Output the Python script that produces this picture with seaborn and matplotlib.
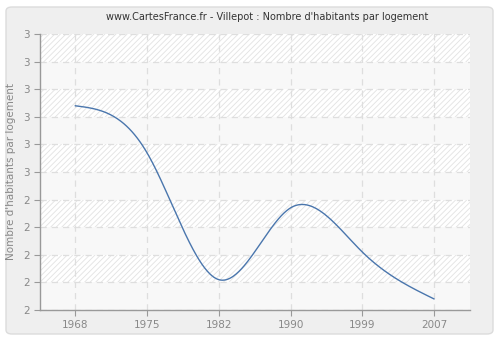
import numpy as np
import pandas as pd
import matplotlib
matplotlib.use("Agg")
import matplotlib.pyplot as plt
from matplotlib.patches import FancyBboxPatch
import seaborn as sns

years = ["1968", "1975", "1982", "1990", "1999", "2007"]
values = [2.74, 2.57, 2.11, 2.37, 2.21, 2.04]
y_ticks = [2.0, 2.1, 2.2, 2.3, 2.4, 2.5, 2.6, 2.7, 2.8, 2.9, 3.0]

title = "www.CartesFrance.fr - Villepot : Nombre d'habitants par logement"
ylabel = "Nombre d'habitants par logement"


def natural_spline(x, y, xs):
    x = np.asarray(x, float)
    y = np.asarray(y, float)
    n = len(x)
    h = np.diff(x)
    A = np.zeros((n - 2, n - 2))
    r = np.zeros(n - 2)
    for i in range(1, n - 1):
        k = i - 1
        A[k, k] = 2 * (h[i - 1] + h[i])
        if k > 0:
            A[k, k - 1] = h[i - 1]
        if k < n - 3:
            A[k, k + 1] = h[i]
        r[k] = 6 * ((y[i + 1] - y[i]) / h[i] - (y[i] - y[i - 1]) / h[i - 1])
    M = np.zeros(n)
    M[1:-1] = np.linalg.solve(A, r)
    out = np.empty_like(xs)
    for j, t in enumerate(xs):
        i = min(max(np.searchsorted(x, t) - 1, 0), n - 2)
        a = x[i + 1] - t
        b = t - x[i]
        out[j] = (M[i] * a ** 3 + M[i + 1] * b ** 3) / (6 * h[i]) \
            + (y[i] / h[i] - M[i] * h[i] / 6) * a \
            + (y[i + 1] / h[i] - M[i + 1] * h[i] / 6) * b
    return out


sns.set_style("white")
plt.rcParams["font.family"] = ["DejaVu Sans"]
plt.rcParams["hatch.color"] = "#e2e2e2"
plt.rcParams["hatch.linewidth"] = 0.6

fig = plt.figure(figsize=(5, 3.4), dpi=100)
fig.patch.set_facecolor("white")
panel = FancyBboxPatch((6 / 500, 6 / 340), 487 / 500, 327 / 340,
                       boxstyle="round,pad=0,rounding_size=0.012",
                       transform=fig.transFigure, facecolor="#efefef",
                       edgecolor="#dcdcdc", linewidth=1.0, zorder=-10)
fig.patches.append(panel)

ax = fig.add_axes([40 / 500, 1 - 310 / 340, 430 / 500, 276 / 340])
ax.set_zorder(1)
ax.set_facecolor("#fdfdfd")

xi = np.arange(len(years), dtype=float)
xs = np.linspace(xi[0], xi[-1], 400)
ys = natural_spline(xi, values, xs)
df = pd.DataFrame({"x": xs, "y": ys})

for k in range(len(y_ticks) - 1):
    lo, hi = y_ticks[k], y_ticks[k + 1]
    if k % 2 == 0:
        ax.axhspan(lo, hi, facecolor="#f8f8f8", edgecolor="none", zorder=0)
    else:
        ax.axhspan(lo, hi, facecolor="white", edgecolor="#e2e2e2",
                   hatch="//////", linewidth=0, zorder=0)

sns.lineplot(data=df, x="x", y="y", ax=ax, color="#4a76ad", linewidth=1.0,
             zorder=3)

ax.set_xlim(-0.49, 5.5)
ax.set_ylim(y_ticks[0], y_ticks[-1])
ax.set_xticks(xi)
ax.set_xticklabels(years)
ax.set_yticks(y_ticks)
ax.set_yticklabels([str(int(np.floor(v + 0.5 + 1e-9))) for v in y_ticks])

ax.grid(True, color="#dedede", linestyle=(0, (5, 4)), linewidth=0.9)
for line in ax.get_xgridlines() + ax.get_ygridlines():
    line.set_zorder(1)

for s in ["top", "right"]:
    ax.spines[s].set_visible(False)
for s in ["left", "bottom"]:
    ax.spines[s].set_color("#999999")
    ax.spines[s].set_linewidth(1.0)

ax.tick_params(axis="both", which="both", direction="out", length=4,
               width=0.8, color="#999999", labelcolor="#888888",
               labelsize=7.5, left=True, bottom=True, pad=3)
ax.tick_params(axis="x", pad=3)

ax.set_xlabel("")
ax.set_ylabel(ylabel, color="#888888", fontsize=7.5)
ax.yaxis.set_label_coords(-24 / 430, 0.5)
fig.text(0.534, 1 - 17 / 340, title, ha="center", va="center",
         fontsize=7, color="#333333")

fig.savefig("out.png", dpi=100, facecolor=fig.get_facecolor())
